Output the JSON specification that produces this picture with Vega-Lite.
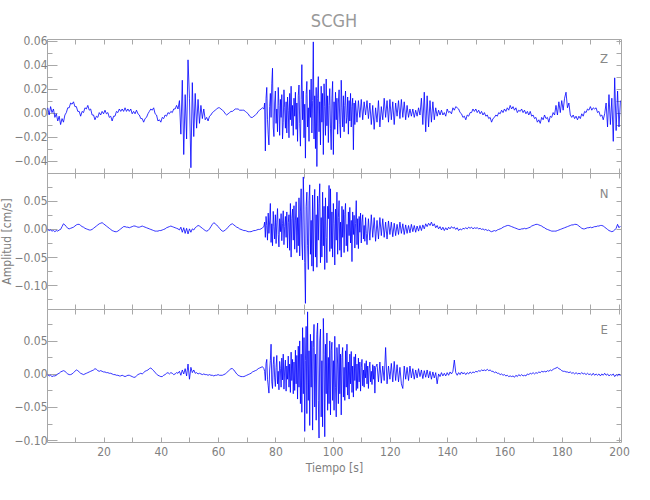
{
"$schema": "https://vega.github.io/schema/vega-lite/v6.json",
"background": "white",
"padding": {"left": 0, "top": 13, "right": 5, "bottom": 5},
"bounds": "flush",
"title": {"text": "SCGH", "fontSize": 18, "font": "Liberation Sans Narrow, DejaVu Sans Condensed, sans-serif", "fontWeight": "normal", "color": "#999999", "anchor": "middle", "frame": "group", "offset": 3},
"datasets": {
"z": [
{"t":0.5,"v":0.004},{"t":1,"v":-0.002},{"t":1.5,"v":0.005},{"t":2,"v":0},{"t":2.5,"v":0.003},{"t":3,"v":-0.004},{"t":3.5,"v":-0.001},{"t":4,"v":-0.007},{"t":4.5,"v":-0.003},{"t":5,"v":-0.01},{"t":5.5,"v":-0.005},{"t":6,"v":-0.008},{"t":6.5,"v":-0.002},{"t":7,"v":0},{"t":7.5,"v":0.004},{"t":8,"v":0.004},{"t":8.5,"v":0.008},{"t":9,"v":0.007},{"t":9.5,"v":0.009},{"t":10,"v":0.005},
{"t":10.5,"v":0.005},{"t":11,"v":0.001},{"t":11.5,"v":0.001},{"t":12,"v":-0.003},{"t":12.5,"v":0.001},{"t":13,"v":0},{"t":13.5,"v":0.004},{"t":14,"v":0.003},{"t":14.5,"v":0.006},{"t":15,"v":0.002},{"t":15.5,"v":0.003},{"t":16,"v":-0.002},{"t":16.5,"v":-0.002},{"t":17,"v":-0.006},{"t":17.5,"v":-0.003},{"t":18,"v":-0.004},{"t":18.5,"v":0},{"t":19,"v":-0.002},{"t":19.5,"v":0.001},{"t":20,"v":-0.001},
{"t":20.5,"v":0.002},{"t":21,"v":-0.001},{"t":21.5,"v":0},{"t":22,"v":-0.004},{"t":22.5,"v":-0.003},{"t":23,"v":-0.007},{"t":23.5,"v":-0.003},{"t":24,"v":-0.003},{"t":24.5,"v":0.001},{"t":25,"v":0},{"t":25.5,"v":0.003},{"t":26,"v":0.001},{"t":26.5,"v":0.003},{"t":27,"v":0.001},{"t":27.5,"v":0.004},{"t":28,"v":0.001},{"t":28.5,"v":0.003},{"t":29,"v":0.001},{"t":29.5,"v":0.003},{"t":30,"v":-0.001},
{"t":30.5,"v":0.001},{"t":31,"v":-0.001},{"t":31.5,"v":0.002},{"t":32,"v":-0.001},{"t":32.5,"v":-0.002},{"t":33,"v":-0.005},{"t":33.5,"v":-0.005},{"t":34,"v":-0.008},{"t":34.5,"v":-0.005},{"t":35,"v":-0.004},{"t":35.5,"v":-0.001},{"t":36,"v":0.001},{"t":36.5,"v":0.003},{"t":37,"v":0.002},{"t":37.5,"v":0.004},{"t":38,"v":-0.001},{"t":38.5,"v":-0.002},{"t":39,"v":-0.007},{"t":39.5,"v":-0.006},{"t":40,"v":-0.008},
{"t":40.5,"v":-0.004},{"t":41,"v":-0.005},{"t":41.5,"v":-0.002},{"t":42,"v":-0.003},{"t":42.5,"v":0},{"t":43,"v":-0.001},{"t":43.5,"v":0.001},{"t":44,"v":0},{"t":44.5,"v":0.003},{"t":45,"v":0.003},{"t":45.5,"v":0.006},{"t":46,"v":0.003},{"t":46.5,"v":0.01},{"t":47,"v":-0.018},{"t":47.5,"v":0.027},{"t":48,"v":-0.035},{"t":48.5,"v":0.015},{"t":49,"v":-0.022},{"t":49.5,"v":0.044},{"t":50,"v":0.012},
{"t":50.5,"v":-0.046},{"t":51,"v":0.025},{"t":51.5,"v":-0.02},{"t":52,"v":0.016},{"t":52.5,"v":-0.013},{"t":53,"v":0.011},{"t":53.5,"v":-0.009},{"t":54,"v":0.006},{"t":54.5,"v":-0.005},{"t":55,"v":0.003},{"t":55.5,"v":-0.006},{"t":56,"v":-0.004},{"t":56.5,"v":-0.007},{"t":57,"v":-0.003},{"t":57.5,"v":-0.002},{"t":58,"v":0},{"t":58.5,"v":0.001},{"t":59,"v":0.002},{"t":59.5,"v":0.003},{"t":60,"v":0.004},
{"t":60.5,"v":0.004},{"t":61,"v":0.003},{"t":61.5,"v":0.002},{"t":62,"v":0.001},{"t":62.5,"v":-0.001},{"t":63,"v":-0.002},{"t":63.5,"v":-0.001},{"t":64,"v":0},{"t":64.5,"v":0.001},{"t":65,"v":0.001},{"t":65.5,"v":0.002},{"t":66,"v":0.003},{"t":66.5,"v":0.003},{"t":67,"v":0.003},{"t":67.5,"v":0.002},{"t":68,"v":0.002},{"t":68.5,"v":0.002},{"t":69,"v":0.002},{"t":69.5,"v":0.001},{"t":70,"v":0},
{"t":70.5,"v":-0.001},{"t":71,"v":-0.003},{"t":71.5,"v":-0.004},{"t":72,"v":-0.004},{"t":72.5,"v":-0.003},{"t":73,"v":-0.002},{"t":73.5,"v":-0.001},{"t":74,"v":0.001},{"t":74.5,"v":0.002},{"t":75,"v":0.003},{"t":75.5,"v":0.004},{"t":76,"v":0.003},
{"t":76.25,"v":0.008},{"t":76.5,"v":-0.032},{"t":76.75,"v":0.012},{"t":77,"v":0.021},{"t":77.25,"v":-0.006},{"t":77.5,"v":-0.018},{"t":77.75,"v":-0.027},{"t":78,"v":0.005},{"t":78.25,"v":0.016},{"t":78.5,"v":-0.004},{"t":78.75,"v":0.024},{"t":79,"v":0.037},{"t":79.25,"v":-0.012},{"t":79.5,"v":-0.02},{"t":79.75,"v":0.008},{"t":80,"v":0.018},
{"t":80.25,"v":-0.009},{"t":80.5,"v":0.003},{"t":80.75,"v":-0.016},{"t":81,"v":0.021},{"t":81.25,"v":0.006},{"t":81.5,"v":-0.019},{"t":81.75,"v":0.011},{"t":82,"v":-0.004},{"t":82.25,"v":0.015},{"t":82.5,"v":-0.022},{"t":82.75,"v":-0.008},{"t":83,"v":0.019},{"t":83.25,"v":0.004},{"t":83.5,"v":-0.013},{"t":83.75,"v":0.009},{"t":84,"v":-0.017},
{"t":84.25,"v":0.013},{"t":84.5,"v":0.002},{"t":84.75,"v":-0.021},{"t":85,"v":0.016},{"t":85.25,"v":-0.006},{"t":85.5,"v":0.022},{"t":85.75,"v":-0.011},{"t":86,"v":0.006},{"t":86.25,"v":-0.019},{"t":86.5,"v":0.012},{"t":86.75,"v":-0.003},{"t":87,"v":0.017},{"t":87.25,"v":-0.014},{"t":87.5,"v":0.008},{"t":87.75,"v":-0.024},{"t":88,"v":0.014},
{"t":88.25,"v":0.023},{"t":88.5,"v":-0.009},{"t":88.75,"v":-0.028},{"t":89,"v":0.011},{"t":89.25,"v":0.04},{"t":89.5,"v":-0.006},{"t":89.75,"v":0.018},{"t":90,"v":-0.021},{"t":90.25,"v":0.007},{"t":90.5,"v":-0.038},{"t":90.75,"v":0.015},{"t":91,"v":0.026},{"t":91.25,"v":-0.012},{"t":91.5,"v":0.004},{"t":91.75,"v":-0.024},{"t":92,"v":0.019},
{"t":92.25,"v":-0.004},{"t":92.5,"v":0.028},{"t":92.75,"v":-0.017},{"t":93,"v":0.01},{"t":93.25,"v":0.059},{"t":93.5,"v":-0.022},{"t":93.75,"v":0.014},{"t":94,"v":-0.03},{"t":94.25,"v":0.021},{"t":94.5,"v":-0.045},{"t":94.75,"v":0.012},{"t":95,"v":0.03},{"t":95.25,"v":-0.016},{"t":95.5,"v":0.009},{"t":95.75,"v":-0.027},{"t":96,"v":0.022},
{"t":96.25,"v":-0.008},{"t":96.5,"v":0.016},{"t":96.75,"v":-0.035},{"t":97,"v":0.024},{"t":97.25,"v":0.005},{"t":97.5,"v":-0.019},{"t":97.75,"v":0.028},{"t":98,"v":-0.011},{"t":98.25,"v":0.014},{"t":98.5,"v":-0.025},{"t":98.75,"v":0.006},{"t":99,"v":0.02},{"t":99.25,"v":-0.013},{"t":99.5,"v":-0.031},{"t":99.75,"v":0.012},{"t":100,"v":0.026},
{"t":100.25,"v":-0.035},{"t":100.5,"v":0.009},{"t":100.75,"v":-0.014},{"t":101,"v":0.017},{"t":101.25,"v":-0.006},{"t":101.5,"v":0.012},{"t":101.75,"v":-0.018},{"t":102,"v":0.008},{"t":102.25,"v":0.019},{"t":102.5,"v":-0.01},{"t":102.75,"v":-0.021},{"t":103,"v":0.027},{"t":103.25,"v":0.004},{"t":103.5,"v":-0.012},{"t":103.75,"v":0.014},{"t":104,"v":-0.016},
{"t":104.25,"v":0.006},{"t":104.5,"v":0.018},{"t":104.75,"v":-0.009},{"t":105,"v":-0.004},{"t":105.25,"v":0.013},{"t":105.5,"v":-0.018},{"t":105.75,"v":0.01},{"t":106,"v":-0.007},{"t":106.25,"v":0.016},{"t":106.5,"v":-0.012},{"t":106.75,"v":0.005},{"t":107,"v":0.012},{"t":107.25,"v":-0.031},{"t":107.5,"v":0.008},{"t":107.75,"v":-0.01},{"t":108,"v":0.01},
{"t":108.5,"v":-0.008},{"t":109,"v":0.01},{"t":109.5,"v":-0.004},{"t":110,"v":0.011},
{"t":110.5,"v":-0.006},{"t":111,"v":0.009},{"t":111.5,"v":-0.002},{"t":112,"v":0.01},{"t":112.5,"v":-0.005},{"t":113,"v":0.008},{"t":113.5,"v":-0.01},{"t":114,"v":0.006},{"t":114.5,"v":-0.014},{"t":115,"v":0.004},{"t":115.5,"v":-0.008},{"t":116,"v":0.01},{"t":116.5,"v":-0.012},{"t":117,"v":0.005},{"t":117.5,"v":-0.006},{"t":118,"v":0.012},{"t":118.5,"v":-0.004},{"t":119,"v":0.01},{"t":119.5,"v":-0.008},{"t":120,"v":0.011},
{"t":120.5,"v":-0.006},{"t":121,"v":0.009},{"t":121.5,"v":-0.01},{"t":122,"v":0.008},{"t":122.5,"v":-0.003},{"t":123,"v":0.01},{"t":123.5,"v":-0.005},{"t":124,"v":0.011},{"t":124.5,"v":-0.004},{"t":125,"v":0.009},{"t":125.5,"v":-0.006},{"t":126,"v":0.006},{"t":126.5,"v":-0.004},{"t":127,"v":0.003},{"t":127.5,"v":-0.003},{"t":128,"v":0.003},{"t":128.5,"v":-0.004},{"t":129,"v":0.002},{"t":129.5,"v":-0.003},{"t":130,"v":0.004},
{"t":130.5,"v":-0.002},{"t":131,"v":0.012},{"t":131.5,"v":-0.01},{"t":132,"v":0.017},{"t":132.5,"v":-0.016},{"t":133,"v":0.014},{"t":133.5,"v":-0.012},{"t":134,"v":0.01},{"t":134.5,"v":-0.008},{"t":135,"v":0.009},{"t":135.5,"v":-0.006},{"t":136,"v":0.004},{"t":136.5,"v":-0.003},{"t":137,"v":0.002},{"t":137.5,"v":-0.002},{"t":138,"v":0.002},{"t":138.5,"v":-0.002},{"t":139,"v":0},{"t":139.5,"v":-0.003},{"t":140,"v":0.003},
{"t":140.5,"v":0},{"t":141,"v":0.001},{"t":141.5,"v":-0.001},{"t":142,"v":0.004},{"t":142.5,"v":0.002},{"t":143,"v":0.005},{"t":143.5,"v":0.004},{"t":144,"v":0.003},{"t":144.5,"v":0},{"t":145,"v":-0.001},{"t":145.5,"v":-0.004},{"t":146,"v":-0.003},{"t":146.5,"v":-0.006},{"t":147,"v":-0.002},{"t":147.5,"v":-0.003},{"t":148,"v":0},{"t":148.5,"v":0},{"t":149,"v":0.003},{"t":149.5,"v":0.001},{"t":150,"v":0.003},
{"t":150.5,"v":0},{"t":151,"v":0.002},{"t":151.5,"v":-0.001},{"t":152,"v":0.001},{"t":152.5,"v":-0.002},{"t":153,"v":0},{"t":153.5,"v":-0.003},{"t":154,"v":-0.002},{"t":154.5,"v":-0.005},{"t":155,"v":-0.004},{"t":155.5,"v":-0.008},{"t":156,"v":-0.005},{"t":156.5,"v":-0.004},{"t":157,"v":-0.002},{"t":157.5,"v":-0.003},{"t":158,"v":0},{"t":158.5,"v":-0.001},{"t":159,"v":0.002},{"t":159.5,"v":0},{"t":160,"v":0.003},
{"t":160.5,"v":0.001},{"t":161,"v":0.004},{"t":161.5,"v":0.002},{"t":162,"v":0.006},{"t":162.5,"v":0.003},{"t":163,"v":0.005},{"t":163.5,"v":0.002},{"t":164,"v":0.004},{"t":164.5,"v":0},{"t":165,"v":0.002},{"t":165.5,"v":0.001},{"t":166,"v":0.003},{"t":166.5,"v":0},{"t":167,"v":0.002},{"t":167.5,"v":-0.001},{"t":168,"v":0.001},{"t":168.5,"v":-0.002},{"t":169,"v":0.001},{"t":169.5,"v":-0.003},{"t":170,"v":-0.002},
{"t":170.5,"v":-0.005},{"t":171,"v":-0.004},{"t":171.5,"v":-0.008},{"t":172,"v":-0.006},{"t":172.5,"v":-0.009},{"t":173,"v":-0.004},{"t":173.5,"v":-0.006},{"t":174,"v":-0.002},{"t":174.5,"v":-0.005},{"t":175,"v":-0.004},{"t":175.5,"v":-0.008},{"t":176,"v":-0.003},{"t":176.5,"v":-0.004},{"t":177,"v":0},{"t":177.5,"v":-0.002},{"t":178,"v":0.006},{"t":178.5,"v":-0.002},{"t":179,"v":0.009},{"t":179.5,"v":0},{"t":180,"v":0.01},
{"t":180.5,"v":0.002},{"t":181,"v":0.012},{"t":181.5,"v":0.017},{"t":182,"v":0.004},{"t":182.5,"v":0.008},{"t":183,"v":-0.002},{"t":183.5,"v":-0.004},{"t":184,"v":-0.002},{"t":184.5,"v":-0.005},{"t":185,"v":-0.003},{"t":185.5,"v":-0.006},{"t":186,"v":-0.003},{"t":186.5,"v":-0.005},{"t":187,"v":-0.001},{"t":187.5,"v":-0.003},{"t":188,"v":0.001},{"t":188.5,"v":0},{"t":189,"v":0.003},{"t":189.5,"v":0.002},{"t":190,"v":0.005},
{"t":190.5,"v":0.002},{"t":191,"v":0.004},{"t":191.5,"v":0.003},{"t":192,"v":0.004},{"t":192.5,"v":0},{"t":193,"v":0.001},{"t":193.5,"v":-0.003},{"t":194,"v":-0.002},{"t":194.5,"v":-0.006},{"t":195,"v":-0.001},{"t":195.5,"v":0.008},{"t":196,"v":-0.012},{"t":196.5,"v":0.015},{"t":197,"v":-0.01},{"t":197.5,"v":0.012},{"t":198,"v":-0.024},{"t":198.5,"v":0.029},{"t":199,"v":-0.015},{"t":199.5,"v":0.018},{"t":200,"v":-0.012},
{"t":200.5,"v":0.01}
],
"n": [
{"t":0.5,"v":-0.001},{"t":1,"v":-0.003},{"t":1.5,"v":-0.002},{"t":2,"v":-0.004},{"t":2.5,"v":-0.003},{"t":3,"v":-0.005},{"t":3.5,"v":-0.003},{"t":4,"v":-0.004},{"t":4.5,"v":-0.002},{"t":5,"v":-0.001},{"t":5.5,"v":0.004},{"t":6,"v":0.009},{"t":6.5,"v":0.007},{"t":7,"v":0.004},{"t":7.5,"v":0.001},{"t":8,"v":0},{"t":8.5,"v":0.001},{"t":9,"v":0.002},{"t":9.5,"v":0.003},{"t":10,"v":0.005},
{"t":10.5,"v":0.007},{"t":11,"v":0.008},{"t":11.5,"v":0.008},{"t":12,"v":0.006},{"t":12.5,"v":0.004},{"t":13,"v":0.003},{"t":13.5,"v":0.001},{"t":14,"v":0},{"t":14.5,"v":-0.001},{"t":15,"v":-0.002},{"t":15.5,"v":-0.002},{"t":16,"v":-0.001},{"t":16.5,"v":0.001},{"t":17,"v":0.003},{"t":17.5,"v":0.005},{"t":18,"v":0.007},{"t":18.5,"v":0.009},{"t":19,"v":0.01},{"t":19.5,"v":0.011},{"t":20,"v":0.009},
{"t":20.5,"v":0.007},{"t":21,"v":0.005},{"t":21.5,"v":0.003},{"t":22,"v":0.001},{"t":22.5,"v":-0.001},{"t":23,"v":-0.003},{"t":23.5,"v":-0.004},{"t":24,"v":-0.005},{"t":24.5,"v":-0.005},{"t":25,"v":-0.004},{"t":25.5,"v":-0.002},{"t":26,"v":0},{"t":26.5,"v":0.002},{"t":27,"v":0.004},{"t":27.5,"v":0.004},{"t":28,"v":0.003},{"t":28.5,"v":0.003},{"t":29,"v":0.002},{"t":29.5,"v":0.003},{"t":30,"v":0.004},
{"t":30.5,"v":0.005},{"t":31,"v":0.005},{"t":31.5,"v":0.004},{"t":32,"v":0.003},{"t":32.5,"v":0.003},{"t":33,"v":0.004},{"t":33.5,"v":0.005},{"t":34,"v":0.004},{"t":34.5,"v":0.003},{"t":35,"v":0.002},{"t":35.5,"v":0.001},{"t":36,"v":0},{"t":36.5,"v":-0.001},{"t":37,"v":-0.002},{"t":37.5,"v":-0.003},{"t":38,"v":-0.004},{"t":38.5,"v":-0.004},{"t":39,"v":-0.004},{"t":39.5,"v":-0.003},{"t":40,"v":-0.003},
{"t":40.5,"v":-0.002},{"t":41,"v":-0.001},{"t":41.5,"v":0},{"t":42,"v":0.002},{"t":42.5,"v":0.003},{"t":43,"v":0.004},{"t":43.5,"v":0.005},{"t":44,"v":0.004},{"t":44.5,"v":0.003},{"t":45,"v":0.002},{"t":45.5,"v":0.001},{"t":46,"v":0},{"t":46.5,"v":-0.002},{"t":47,"v":0.003},{"t":47.5,"v":-0.006},{"t":48,"v":0.002},{"t":48.5,"v":-0.008},{"t":49,"v":0.001},{"t":49.5,"v":-0.009},{"t":50,"v":0},
{"t":50.5,"v":-0.006},{"t":51,"v":0},{"t":51.5,"v":-0.002},{"t":52,"v":0.002},{"t":52.5,"v":0.004},{"t":53,"v":0.006},{"t":53.5,"v":0.005},{"t":54,"v":0.003},{"t":54.5,"v":0.001},{"t":55,"v":-0.001},{"t":55.5,"v":-0.003},{"t":56,"v":-0.004},{"t":56.5,"v":-0.003},{"t":57,"v":0},{"t":57.5,"v":0.004},{"t":58,"v":0.008},{"t":58.5,"v":0.011},{"t":59,"v":0.009},{"t":59.5,"v":0.007},{"t":60,"v":0.004},
{"t":60.5,"v":0.001},{"t":61,"v":-0.002},{"t":61.5,"v":-0.004},{"t":62,"v":-0.004},{"t":62.5,"v":-0.002},{"t":63,"v":0},{"t":63.5,"v":0.003},{"t":64,"v":0.006},{"t":64.5,"v":0.008},{"t":65,"v":0.009},{"t":65.5,"v":0.007},{"t":66,"v":0.005},{"t":66.5,"v":0.003},{"t":67,"v":0.002},{"t":67.5,"v":0},{"t":68,"v":-0.001},{"t":68.5,"v":-0.002},{"t":69,"v":-0.003},{"t":69.5,"v":-0.003},{"t":70,"v":-0.004},
{"t":70.5,"v":-0.005},{"t":71,"v":-0.005},{"t":71.5,"v":-0.005},{"t":72,"v":-0.004},{"t":72.5,"v":-0.003},{"t":73,"v":-0.003},{"t":73.5,"v":-0.002},{"t":74,"v":-0.001},{"t":74.5,"v":-0.001},{"t":75,"v":0},{"t":75.5,"v":0.002},{"t":76,"v":0.004},
{"t":76.25,"v":0.012},{"t":76.5,"v":-0.015},{"t":76.75,"v":0.022},{"t":77,"v":0.006},{"t":77.25,"v":-0.02},{"t":77.5,"v":0.028},{"t":77.75,"v":-0.008},{"t":78,"v":0.014},{"t":78.25,"v":0.045},{"t":78.5,"v":-0.024},{"t":78.75,"v":0.009},{"t":79,"v":-0.03},{"t":79.25,"v":0.031},{"t":79.5,"v":0.004},{"t":79.75,"v":-0.018},{"t":80,"v":0.025},
{"t":80.25,"v":-0.026},{"t":80.5,"v":0.012},{"t":80.75,"v":0.036},{"t":81,"v":-0.01},{"t":81.25,"v":-0.032},{"t":81.5,"v":0.018},{"t":81.75,"v":-0.005},{"t":82,"v":0.027},{"t":82.25,"v":-0.021},{"t":82.5,"v":0.009},{"t":82.75,"v":0.032},{"t":83,"v":-0.028},{"t":83.25,"v":0.004},{"t":83.5,"v":0.022},{"t":83.75,"v":-0.015},{"t":84,"v":0.03},
{"t":84.25,"v":-0.034},{"t":84.5,"v":0.011},{"t":84.75,"v":0.025},{"t":85,"v":-0.038},{"t":85.25,"v":0.045},{"t":85.5,"v":-0.05},{"t":85.75,"v":0.018},{"t":86,"v":0.035},{"t":86.25,"v":-0.02},{"t":86.5,"v":0.041},{"t":86.75,"v":-0.036},{"t":87,"v":0.014},{"t":87.25,"v":0.048},{"t":87.5,"v":-0.042},{"t":87.75,"v":0.02},{"t":88,"v":-0.03},
{"t":88.25,"v":0.055},{"t":88.5,"v":-0.048},{"t":88.75,"v":0.03},{"t":89,"v":0.071},{"t":89.25,"v":-0.025},{"t":89.5,"v":-0.055},{"t":89.75,"v":0.092},{"t":90,"v":0.035},{"t":90.25,"v":-0.06},{"t":90.5,"v":-0.132},{"t":90.75,"v":0.04},{"t":91,"v":0.065},{"t":91.25,"v":-0.03},{"t":91.5,"v":-0.072},{"t":91.75,"v":0.05},{"t":92,"v":0.078},
{"t":92.25,"v":-0.045},{"t":92.5,"v":0.015},{"t":92.75,"v":-0.066},{"t":93,"v":0.06},{"t":93.25,"v":-0.075},{"t":93.5,"v":0.03},{"t":93.75,"v":0.07},{"t":94,"v":-0.05},{"t":94.25,"v":0.025},{"t":94.5,"v":-0.068},{"t":94.75,"v":0.058},{"t":95,"v":-0.02},{"t":95.25,"v":0.045},{"t":95.5,"v":0.08},{"t":95.75,"v":-0.06},{"t":96,"v":0.02},
{"t":96.25,"v":-0.05},{"t":96.5,"v":0.065},{"t":96.75,"v":-0.03},{"t":97,"v":0.04},{"t":97.25,"v":-0.072},{"t":97.5,"v":0.055},{"t":97.75,"v":-0.015},{"t":98,"v":-0.06},{"t":98.25,"v":0.04},{"t":98.5,"v":0.018},{"t":98.75,"v":0.077},{"t":99,"v":-0.04},{"t":99.25,"v":0.071},{"t":99.5,"v":-0.035},{"t":99.75,"v":0.03},{"t":100,"v":-0.05},
{"t":100.25,"v":0.045},{"t":100.5,"v":0.01},{"t":100.75,"v":-0.064},{"t":101,"v":0.035},{"t":101.25,"v":-0.02},{"t":101.5,"v":0.065},{"t":101.75,"v":-0.045},{"t":102,"v":0.02},{"t":102.25,"v":0.05},{"t":102.5,"v":-0.038},{"t":102.75,"v":0.012},{"t":103,"v":-0.05},{"t":103.25,"v":0.04},{"t":103.5,"v":-0.015},{"t":103.75,"v":0.034},{"t":104,"v":-0.042},
{"t":104.25,"v":0.026},{"t":104.5,"v":0.045},{"t":104.75,"v":-0.03},{"t":105,"v":0.008},{"t":105.25,"v":-0.04},{"t":105.5,"v":0.03},{"t":105.75,"v":-0.012},{"t":106,"v":0.038},{"t":106.25,"v":-0.025},{"t":106.5,"v":0.015},{"t":106.75,"v":-0.058},{"t":107,"v":0.03},{"t":107.25,"v":-0.01},{"t":107.5,"v":0.024},{"t":107.75,"v":-0.034},{"t":108,"v":0.01},
{"t":108.25,"v":0.05},{"t":108.5,"v":-0.028},{"t":108.75,"v":0.018},{"t":109,"v":-0.035},{"t":109.25,"v":0.022},{"t":109.5,"v":-0.006},{"t":109.75,"v":0.028},{"t":110,"v":-0.025},{"t":110.25,"v":0.012},{"t":110.5,"v":0.025},{"t":110.75,"v":-0.018},{"t":111,"v":0.006},{"t":111.25,"v":-0.022},{"t":111.5,"v":0.02},{"t":111.75,"v":-0.008},{"t":112,"v":-0.028},
{"t":112.5,"v":0.018},{"t":113,"v":-0.02},{"t":113.5,"v":0.025},{"t":114,"v":-0.015},{"t":114.5,"v":0.02},{"t":115,"v":-0.022},{"t":115.5,"v":0.015},{"t":116,"v":-0.018},{"t":116.5,"v":0.02},{"t":117,"v":-0.012},{"t":117.5,"v":0.018},{"t":118,"v":-0.015},{"t":118.5,"v":0.012},{"t":119,"v":-0.018},{"t":119.5,"v":0.014},{"t":120,"v":-0.01},
{"t":120.5,"v":0.012},{"t":121,"v":-0.014},{"t":121.5,"v":0.01},{"t":122,"v":-0.012},{"t":122.5,"v":0.008},{"t":123,"v":-0.01},{"t":123.5,"v":0.012},{"t":124,"v":-0.008},{"t":124.5,"v":0.009},{"t":125,"v":-0.01},{"t":125.5,"v":0.007},{"t":126,"v":-0.008},{"t":126.5,"v":0.006},{"t":127,"v":-0.007},{"t":127.5,"v":0.008},{"t":128,"v":-0.005},{"t":128.5,"v":0.006},{"t":129,"v":-0.006},{"t":129.5,"v":0.005},{"t":130,"v":-0.004},
{"t":130.5,"v":0.006},{"t":131,"v":-0.003},{"t":131.5,"v":0.007},{"t":132,"v":0},{"t":132.5,"v":0.009},{"t":133,"v":0.004},{"t":133.5,"v":0.01},{"t":134,"v":0.006},{"t":134.5,"v":0.012},{"t":135,"v":0.005},{"t":135.5,"v":0.009},{"t":136,"v":0.002},{"t":136.5,"v":0.006},{"t":137,"v":0},{"t":137.5,"v":0.004},{"t":138,"v":-0.002},{"t":138.5,"v":0.003},{"t":139,"v":-0.003},{"t":139.5,"v":0.002},{"t":140,"v":-0.002},
{"t":140.5,"v":0.003},{"t":141,"v":0},{"t":141.5,"v":0.004},{"t":142,"v":0.001},{"t":142.5,"v":0.003},{"t":143,"v":-0.001},{"t":143.5,"v":0.002},{"t":144,"v":-0.003},{"t":144.5,"v":0},{"t":145,"v":-0.002},{"t":145.5,"v":0.001},{"t":146,"v":0},{"t":146.5,"v":0.002},{"t":147,"v":0},{"t":147.5,"v":0.003},{"t":148,"v":0.001},{"t":148.5,"v":0.003},{"t":149,"v":0},{"t":149.5,"v":0.002},{"t":150,"v":0.001},
{"t":150.5,"v":0.002},{"t":151,"v":0},{"t":151.5,"v":0.001},{"t":152,"v":-0.001},{"t":152.5,"v":0},{"t":153,"v":-0.002},{"t":153.5,"v":-0.001},{"t":154,"v":-0.003},{"t":154.5,"v":-0.002},{"t":155,"v":-0.004},{"t":155.5,"v":-0.005},{"t":156,"v":-0.004},{"t":156.5,"v":-0.003},{"t":157,"v":-0.004},{"t":157.5,"v":-0.002},{"t":158,"v":-0.001},{"t":158.5,"v":0},{"t":159,"v":0.001},{"t":159.5,"v":0.003},{"t":160,"v":0.004},
{"t":160.5,"v":0.005},{"t":161,"v":0.006},{"t":161.5,"v":0.006},{"t":162,"v":0.005},{"t":162.5,"v":0.004},{"t":163,"v":0.003},{"t":163.5,"v":0.002},{"t":164,"v":0.001},{"t":164.5,"v":0},{"t":165,"v":-0.001},{"t":165.5,"v":-0.001},{"t":166,"v":0},{"t":166.5,"v":0},{"t":167,"v":0.001},{"t":167.5,"v":0},{"t":168,"v":0.001},{"t":168.5,"v":0.002},{"t":169,"v":0.003},{"t":169.5,"v":0.005},{"t":170,"v":0.006},
{"t":170.5,"v":0.007},{"t":171,"v":0.008},{"t":171.5,"v":0.008},{"t":172,"v":0.007},{"t":172.5,"v":0.006},{"t":173,"v":0.005},{"t":173.5,"v":0.003},{"t":174,"v":0.002},{"t":174.5,"v":0},{"t":175,"v":-0.001},{"t":175.5,"v":-0.002},{"t":176,"v":-0.003},{"t":176.5,"v":-0.004},{"t":177,"v":-0.004},{"t":177.5,"v":-0.004},{"t":178,"v":-0.004},{"t":178.5,"v":-0.003},{"t":179,"v":-0.002},{"t":179.5,"v":-0.001},{"t":180,"v":0},
{"t":180.5,"v":0.001},{"t":181,"v":0.002},{"t":181.5,"v":0.003},{"t":182,"v":0.004},{"t":182.5,"v":0.005},{"t":183,"v":0.006},{"t":183.5,"v":0.007},{"t":184,"v":0.007},{"t":184.5,"v":0.008},{"t":185,"v":0.008},{"t":185.5,"v":0.007},{"t":186,"v":0.005},{"t":186.5,"v":0.003},{"t":187,"v":0.001},{"t":187.5,"v":0},{"t":188,"v":0},{"t":188.5,"v":0.001},{"t":189,"v":0.002},{"t":189.5,"v":0.002},{"t":190,"v":0.003},
{"t":190.5,"v":0.002},{"t":191,"v":0.003},{"t":191.5,"v":0.004},{"t":192,"v":0.004},{"t":192.5,"v":0.005},{"t":193,"v":0.005},{"t":193.5,"v":0.006},{"t":194,"v":0.006},{"t":194.5,"v":0.005},{"t":195,"v":0.003},{"t":195.5,"v":0.001},{"t":196,"v":-0.001},{"t":196.5,"v":-0.003},{"t":197,"v":-0.004},{"t":197.5,"v":-0.005},{"t":198,"v":-0.004},{"t":198.5,"v":-0.002},{"t":199,"v":0.001},{"t":199.5,"v":0.008},{"t":200,"v":0.002},
{"t":200.5,"v":0.005}
],
"e": [
{"t":0.5,"v":-0.001},{"t":1,"v":-0.003},{"t":1.5,"v":-0.002},{"t":2,"v":-0.004},{"t":2.5,"v":-0.003},{"t":3,"v":-0.003},{"t":3.5,"v":-0.002},{"t":4,"v":0},{"t":4.5,"v":0.001},{"t":5,"v":0.003},{"t":5.5,"v":0.004},{"t":6,"v":0.005},{"t":6.5,"v":0.004},{"t":7,"v":0.002},{"t":7.5,"v":0},{"t":8,"v":-0.001},{"t":8.5,"v":-0.001},{"t":9,"v":0},{"t":9.5,"v":0.002},{"t":10,"v":0.004},
{"t":10.5,"v":0.006},{"t":11,"v":0.005},{"t":11.5,"v":0.003},{"t":12,"v":0.001},{"t":12.5,"v":0},{"t":13,"v":-0.001},{"t":13.5,"v":0},{"t":14,"v":0.001},{"t":14.5,"v":0.002},{"t":15,"v":0.003},{"t":15.5,"v":0.004},{"t":16,"v":0.005},{"t":16.5,"v":0.006},{"t":17,"v":0.008},{"t":17.5,"v":0.007},{"t":18,"v":0.005},{"t":18.5,"v":0.004},{"t":19,"v":0.005},{"t":19.5,"v":0.004},{"t":20,"v":0.003},
{"t":20.5,"v":0.003},{"t":21,"v":0.002},{"t":21.5,"v":0.002},{"t":22,"v":0.001},{"t":22.5,"v":0.001},{"t":23,"v":0},{"t":23.5,"v":-0.001},{"t":24,"v":-0.001},{"t":24.5,"v":-0.002},{"t":25,"v":-0.002},{"t":25.5,"v":-0.003},{"t":26,"v":-0.003},{"t":26.5,"v":-0.002},{"t":27,"v":-0.003},{"t":27.5,"v":-0.004},{"t":28,"v":-0.003},{"t":28.5,"v":-0.002},{"t":29,"v":-0.002},{"t":29.5,"v":-0.003},{"t":30,"v":-0.004},
{"t":30.5,"v":-0.005},{"t":31,"v":-0.005},{"t":31.5,"v":-0.003},{"t":32,"v":-0.001},{"t":32.5,"v":0},{"t":33,"v":0.001},{"t":33.5,"v":0},{"t":34,"v":0.002},{"t":34.5,"v":0.004},{"t":35,"v":0.005},{"t":35.5,"v":0.006},{"t":36,"v":0.008},{"t":36.5,"v":0.009},{"t":37,"v":0.007},{"t":37.5,"v":0.005},{"t":38,"v":0.002},{"t":38.5,"v":0},{"t":39,"v":-0.002},{"t":39.5,"v":-0.003},{"t":40,"v":-0.004},
{"t":40.5,"v":-0.004},{"t":41,"v":-0.002},{"t":41.5,"v":-0.001},{"t":42,"v":0.001},{"t":42.5,"v":0.002},{"t":43,"v":0},{"t":43.5,"v":0.002},{"t":44,"v":0.001},{"t":44.5,"v":-0.001},{"t":45,"v":0},{"t":45.5,"v":0.002},{"t":46,"v":0.001},{"t":46.5,"v":0.004},{"t":47,"v":-0.002},{"t":47.5,"v":0.006},{"t":48,"v":0},{"t":48.5,"v":0.008},{"t":49,"v":-0.003},{"t":49.5,"v":0.015},{"t":50,"v":-0.008},
{"t":50.5,"v":0.01},{"t":51,"v":0.002},{"t":51.5,"v":0.006},{"t":52,"v":0.001},{"t":52.5,"v":0.002},{"t":53,"v":0},{"t":53.5,"v":0.001},{"t":54,"v":0},{"t":54.5,"v":-0.001},{"t":55,"v":0},{"t":55.5,"v":-0.001},{"t":56,"v":-0.001},{"t":56.5,"v":-0.002},{"t":57,"v":-0.001},{"t":57.5,"v":-0.002},{"t":58,"v":-0.002},{"t":58.5,"v":-0.003},{"t":59,"v":-0.002},{"t":59.5,"v":-0.002},{"t":60,"v":-0.001},
{"t":60.5,"v":-0.002},{"t":61,"v":-0.002},{"t":61.5,"v":-0.002},{"t":62,"v":-0.001},{"t":62.5,"v":0},{"t":63,"v":0.002},{"t":63.5,"v":0.004},{"t":64,"v":0.006},{"t":64.5,"v":0.008},{"t":65,"v":0.008},{"t":65.5,"v":0.006},{"t":66,"v":0.003},{"t":66.5,"v":0},{"t":67,"v":-0.002},{"t":67.5,"v":-0.003},{"t":68,"v":-0.004},{"t":68.5,"v":-0.004},{"t":69,"v":-0.004},{"t":69.5,"v":-0.003},{"t":70,"v":-0.002},
{"t":70.5,"v":-0.001},{"t":71,"v":0},{"t":71.5,"v":0.001},{"t":72,"v":0.003},{"t":72.5,"v":0.004},{"t":73,"v":0.005},{"t":73.5,"v":0.006},{"t":74,"v":0.008},{"t":74.5,"v":0.009},{"t":75,"v":0.01},{"t":75.5,"v":0.011},{"t":76,"v":0.008},
{"t":76.25,"v":0.004},{"t":76.5,"v":-0.01},{"t":76.75,"v":0.016},{"t":77,"v":0.022},{"t":77.25,"v":-0.008},{"t":77.5,"v":-0.018},{"t":77.75,"v":-0.029},{"t":78,"v":0.006},{"t":78.25,"v":0.02},{"t":78.5,"v":0.045},{"t":78.75,"v":-0.012},{"t":79,"v":-0.022},{"t":79.25,"v":0.014},{"t":79.5,"v":0.026},{"t":79.75,"v":-0.006},{"t":80,"v":-0.019},
{"t":80.25,"v":0.01},{"t":80.5,"v":0.028},{"t":80.75,"v":-0.015},{"t":81,"v":0.004},{"t":81.25,"v":-0.024},{"t":81.5,"v":0.019},{"t":81.75,"v":0.008},{"t":82,"v":-0.02},{"t":82.25,"v":0.024},{"t":82.5,"v":-0.009},{"t":82.75,"v":0.03},{"t":83,"v":-0.023},{"t":83.25,"v":0.006},{"t":83.5,"v":0.021},{"t":83.75,"v":-0.026},{"t":84,"v":0.012},
{"t":84.25,"v":-0.008},{"t":84.5,"v":0.027},{"t":84.75,"v":-0.02},{"t":85,"v":0.015},{"t":85.25,"v":-0.028},{"t":85.5,"v":0.033},{"t":85.75,"v":-0.01},{"t":86,"v":0.022},{"t":86.25,"v":-0.03},{"t":86.5,"v":0.018},{"t":86.75,"v":-0.025},{"t":87,"v":0.036},{"t":87.25,"v":-0.015},{"t":87.5,"v":0.028},{"t":87.75,"v":-0.038},{"t":88,"v":0.042},
{"t":88.25,"v":-0.02},{"t":88.5,"v":0.05},{"t":88.75,"v":-0.045},{"t":89,"v":0.03},{"t":89.25,"v":-0.058},{"t":89.5,"v":0.07},{"t":89.75,"v":-0.03},{"t":90,"v":0.055},{"t":90.25,"v":-0.087},{"t":90.5,"v":0.02},{"t":90.75,"v":0.072},{"t":91,"v":-0.06},{"t":91.25,"v":0.094},{"t":91.5,"v":-0.04},{"t":91.75,"v":0.035},{"t":92,"v":-0.078},
{"t":92.25,"v":0.06},{"t":92.5,"v":-0.02},{"t":92.75,"v":0.05},{"t":93,"v":-0.085},{"t":93.25,"v":0.04},{"t":93.5,"v":0.075},{"t":93.75,"v":-0.05},{"t":94,"v":0.03},{"t":94.25,"v":-0.07},{"t":94.5,"v":0.06},{"t":94.75,"v":0.077},{"t":95,"v":-0.04},{"t":95.25,"v":-0.097},{"t":95.5,"v":0.05},{"t":95.75,"v":0.068},{"t":96,"v":-0.065},
{"t":96.25,"v":0.02},{"t":96.5,"v":-0.08},{"t":96.75,"v":0.084},{"t":97,"v":0.03},{"t":97.25,"v":-0.095},{"t":97.5,"v":0.045},{"t":97.75,"v":-0.03},{"t":98,"v":0.062},{"t":98.25,"v":-0.055},{"t":98.5,"v":0.025},{"t":98.75,"v":-0.045},{"t":99,"v":0.05},{"t":99.25,"v":-0.062},{"t":99.5,"v":0.035},{"t":99.75,"v":0.048},{"t":100,"v":-0.04},
{"t":100.25,"v":0.02},{"t":100.5,"v":-0.055},{"t":100.75,"v":0.057},{"t":101,"v":-0.02},{"t":101.25,"v":-0.065},{"t":101.5,"v":0.04},{"t":101.75,"v":0.015},{"t":102,"v":-0.045},{"t":102.25,"v":0.045},{"t":102.5,"v":-0.03},{"t":102.75,"v":0.03},{"t":103,"v":-0.062},{"t":103.25,"v":0.025},{"t":103.5,"v":0.04},{"t":103.75,"v":-0.035},{"t":104,"v":0.01},
{"t":104.25,"v":-0.04},{"t":104.5,"v":0.035},{"t":104.75,"v":-0.02},{"t":105,"v":0.045},{"t":105.25,"v":-0.032},{"t":105.5,"v":0.018},{"t":105.75,"v":-0.038},{"t":106,"v":0.03},{"t":106.25,"v":-0.015},{"t":106.5,"v":0.034},{"t":106.75,"v":-0.028},{"t":107,"v":0.012},{"t":107.25,"v":-0.035},{"t":107.5,"v":0.026},{"t":107.75,"v":-0.01},{"t":108,"v":0.03},
{"t":108.25,"v":-0.025},{"t":108.5,"v":0.015},{"t":108.75,"v":-0.022},{"t":109,"v":0.024},{"t":109.25,"v":-0.012},{"t":109.5,"v":0.018},{"t":109.75,"v":-0.026},{"t":110,"v":0.01},{"t":110.25,"v":0.022},{"t":110.5,"v":-0.018},{"t":110.75,"v":0.006},{"t":111,"v":-0.02},{"t":111.25,"v":0.016},{"t":111.5,"v":-0.006},{"t":111.75,"v":0.02},{"t":112,"v":-0.015},
{"t":112.25,"v":0.012},{"t":112.5,"v":-0.022},{"t":112.75,"v":0.008},{"t":113,"v":0.018},{"t":113.25,"v":-0.012},{"t":113.5,"v":0.004},{"t":113.75,"v":-0.016},{"t":114,"v":0.014},{"t":114.25,"v":-0.008},{"t":114.5,"v":0.012},{"t":114.75,"v":-0.029},{"t":115,"v":0.01},
{"t":115.5,"v":0.015},{"t":116,"v":-0.012},{"t":116.5,"v":0.018},{"t":117,"v":-0.014},{"t":117.5,"v":0.012},{"t":118,"v":-0.01},{"t":118.5,"v":0.04},{"t":119,"v":-0.015},{"t":119.5,"v":0.012},{"t":120,"v":-0.008},
{"t":120.5,"v":0.016},{"t":121,"v":-0.012},{"t":121.5,"v":0.019},{"t":122,"v":-0.01},{"t":122.5,"v":0.014},{"t":123,"v":-0.012},{"t":123.5,"v":0.01},{"t":124,"v":-0.015},{"t":124.5,"v":-0.022},{"t":125,"v":0.012},{"t":125.5,"v":-0.008},{"t":126,"v":0.01},{"t":126.5,"v":-0.01},{"t":127,"v":0.012},{"t":127.5,"v":-0.006},{"t":128,"v":0.008},{"t":128.5,"v":-0.008},{"t":129,"v":0.006},{"t":129.5,"v":-0.006},{"t":130,"v":0.008},
{"t":130.5,"v":-0.004},{"t":131,"v":0.006},{"t":131.5,"v":-0.007},{"t":132,"v":0.005},{"t":132.5,"v":-0.005},{"t":133,"v":0.006},{"t":133.5,"v":-0.006},{"t":134,"v":0.004},{"t":134.5,"v":-0.008},{"t":135,"v":0.003},{"t":135.5,"v":-0.006},{"t":136,"v":0.002},{"t":136.5,"v":-0.015},{"t":137,"v":0},{"t":137.5,"v":-0.004},{"t":138,"v":0.002},{"t":138.5,"v":-0.003},{"t":139,"v":0.001},{"t":139.5,"v":-0.003},{"t":140,"v":0.002},
{"t":140.5,"v":-0.002},{"t":141,"v":0.003},{"t":141.5,"v":0},{"t":142,"v":0.004},{"t":142.5,"v":0.021},{"t":143,"v":0.002},{"t":143.5,"v":-0.002},{"t":144,"v":0.002},{"t":144.5,"v":-0.001},{"t":145,"v":0.003},{"t":145.5,"v":0},{"t":146,"v":0.002},{"t":146.5,"v":-0.001},{"t":147,"v":0.002},{"t":147.5,"v":0},{"t":148,"v":0.003},{"t":148.5,"v":0.001},{"t":149,"v":0.003},{"t":149.5,"v":0.002},{"t":150,"v":0.004},
{"t":150.5,"v":0.003},{"t":151,"v":0.005},{"t":151.5,"v":0.004},{"t":152,"v":0.006},{"t":152.5,"v":0.005},{"t":153,"v":0.006},{"t":153.5,"v":0.005},{"t":154,"v":0.007},{"t":154.5,"v":0.005},{"t":155,"v":0.006},{"t":155.5,"v":0.004},{"t":156,"v":0.004},{"t":156.5,"v":0.002},{"t":157,"v":0.003},{"t":157.5,"v":0.001},{"t":158,"v":0.001},{"t":158.5,"v":-0.001},{"t":159,"v":0},{"t":159.5,"v":-0.002},{"t":160,"v":-0.001},
{"t":160.5,"v":-0.003},{"t":161,"v":-0.002},{"t":161.5,"v":-0.004},{"t":162,"v":-0.003},{"t":162.5,"v":-0.004},{"t":163,"v":-0.003},{"t":163.5,"v":-0.005},{"t":164,"v":-0.002},{"t":164.5,"v":-0.004},{"t":165,"v":-0.001},{"t":165.5,"v":-0.003},{"t":166,"v":-0.001},{"t":166.5,"v":-0.003},{"t":167,"v":-0.002},{"t":167.5,"v":-0.003},{"t":168,"v":0},{"t":168.5,"v":-0.001},{"t":169,"v":0.001},{"t":169.5,"v":0},{"t":170,"v":0.002},
{"t":170.5,"v":0},{"t":171,"v":0.002},{"t":171.5,"v":0.001},{"t":172,"v":0.003},{"t":172.5,"v":0.002},{"t":173,"v":0.004},{"t":173.5,"v":0.003},{"t":174,"v":0.004},{"t":174.5,"v":0.003},{"t":175,"v":0.005},{"t":175.5,"v":0.004},{"t":176,"v":0.006},{"t":176.5,"v":0.005},{"t":177,"v":0.007},{"t":177.5,"v":0.008},{"t":178,"v":0.009},{"t":178.5,"v":0.01},{"t":179,"v":0.008},{"t":179.5,"v":0.007},{"t":180,"v":0.005},
{"t":180.5,"v":0.004},{"t":181,"v":0.004},{"t":181.5,"v":0.003},{"t":182,"v":0.003},{"t":182.5,"v":0.002},{"t":183,"v":0.003},{"t":183.5,"v":0.001},{"t":184,"v":0.002},{"t":184.5,"v":0},{"t":185,"v":0.002},{"t":185.5,"v":0},{"t":186,"v":0.001},{"t":186.5,"v":0},{"t":187,"v":0.002},{"t":187.5,"v":0},{"t":188,"v":0.001},{"t":188.5,"v":-0.001},{"t":189,"v":0.001},{"t":189.5,"v":-0.001},{"t":190,"v":0},
{"t":190.5,"v":-0.002},{"t":191,"v":0.001},{"t":191.5,"v":-0.002},{"t":192,"v":0},{"t":192.5,"v":-0.002},{"t":193,"v":0},{"t":193.5,"v":-0.003},{"t":194,"v":0},{"t":194.5,"v":-0.002},{"t":195,"v":0.001},{"t":195.5,"v":-0.002},{"t":196,"v":0},{"t":196.5,"v":-0.003},{"t":197,"v":-0.001},{"t":197.5,"v":-0.002},{"t":198,"v":0},{"t":198.5,"v":-0.004},{"t":199,"v":-0.001},{"t":199.5,"v":-0.003},{"t":200,"v":0},
{"t":200.5,"v":-0.003}
]
},
"spacing": 0,
"vconcat": [
{
"data": {"name": "z"},
"width": 574, "height": 134,
"layer": [
{"mark": {"type": "line", "color": "#0000ff", "strokeWidth": 0.8, "clip": true},
 "encoding": {
  "x": {"field": "t", "type": "quantitative", "scale": {"domain": [0.25, 200.7], "nice": false, "zero": false},
        "axis": {"orient": "bottom", "values": [10,20,30,40,50,60,70,80,90,100,110,120,130,140,150,160,170,180,190,200], "labels": false, "tickSize": -5, "title": null}},
  "y": {"field": "v", "type": "quantitative", "scale": {"domain": [-0.0504, 0.0614], "nice": false, "zero": false},
        "axis": {"orient": "left", "values": [-0.05,-0.04,-0.03,-0.02,-0.01,0,0.01,0.02,0.03,0.04,0.05,0.06], "format": ".2f",
                 "labelExpr": "abs(round(datum.value*100))%2==0 ? datum.label : ''",
                 "tickSize": {"condition": {"test": "abs(round(datum.value*100))%2==0", "value": -10}, "value": -5},
                 "labelPadding": 10, "title": null}}
 }},
{"mark": {"type": "line", "opacity": 0},
 "encoding": {
  "x": {"field": "t", "type": "quantitative", "axis": {"orient": "top", "values": [10,20,30,40,50,60,70,80,90,100,110,120,130,140,150,160,170,180,190,200], "labels": false, "tickSize": -5, "title": null}},
  "y": {"field": "v", "type": "quantitative", "axis": {"orient": "right", "values": [-0.05,-0.04,-0.03,-0.02,-0.01,0,0.01,0.02,0.03,0.04,0.05,0.06], "labels": false, "tickSize": -5, "title": null}}
 }},
{"data": {"values": [{}]},
 "mark": {"type": "text", "color": "#888888", "fontSize": 13, "font": "Liberation Sans Narrow, DejaVu Sans Condensed, sans-serif"},
 "encoding": {"x": {"datum": 194.8, "type": "quantitative", "axis": null}, "y": {"datum": 0.0448, "type": "quantitative", "axis": null}, "text": {"value": "Z"}}}
],
"resolve": {"axis": {"x": "independent", "y": "independent"}}
},
{
"data": {"name": "n"},
"width": 574, "height": 136,
"layer": [
{"mark": {"type": "line", "color": "#0000ff", "strokeWidth": 0.8, "clip": true},
 "encoding": {
  "x": {"field": "t", "type": "quantitative", "scale": {"domain": [0.25, 200.7], "nice": false, "zero": false},
        "axis": {"orient": "bottom", "values": [10,20,30,40,50,60,70,80,90,100,110,120,130,140,150,160,170,180,190,200], "labels": false, "tickSize": -5, "title": null}},
  "y": {"field": "v", "type": "quantitative", "scale": {"domain": [-0.142, 0.099], "nice": false, "zero": false},
        "axis": {"orient": "left", "values": [-0.125,-0.1,-0.075,-0.05,-0.025,0,0.025,0.05,0.075], "format": ".2f",
                 "labelExpr": "abs(round(datum.value*1000))%50==0 ? datum.label : ''",
                 "tickSize": {"condition": {"test": "abs(round(datum.value*1000))%50==0", "value": -10}, "value": -5},
                 "labelPadding": 10, "title": "Amplitud  [cm/s]", "titlePadding": 0}}
 }},
{"mark": {"type": "line", "opacity": 0},
 "encoding": {
  "x": {"field": "t", "type": "quantitative", "axis": {"orient": "top", "values": [10,20,30,40,50,60,70,80,90,100,110,120,130,140,150,160,170,180,190,200], "labels": false, "tickSize": -5, "title": null}},
  "y": {"field": "v", "type": "quantitative", "axis": {"orient": "right", "values": [-0.125,-0.1,-0.075,-0.05,-0.025,0,0.025,0.05,0.075], "labels": false, "tickSize": -5, "title": null}}
 }},
{"data": {"values": [{}]},
 "mark": {"type": "text", "color": "#888888", "fontSize": 13, "font": "Liberation Sans Narrow, DejaVu Sans Condensed, sans-serif"},
 "encoding": {"x": {"datum": 194.8, "type": "quantitative", "axis": null}, "y": {"datum": 0.061, "type": "quantitative", "axis": null}, "text": {"value": "N"}}}
],
"resolve": {"axis": {"x": "independent", "y": "independent"}}
},
{
"data": {"name": "e"},
"width": 574, "height": 133,
"layer": [
{"mark": {"type": "line", "color": "#0000ff", "strokeWidth": 0.8, "clip": true},
 "encoding": {
  "x": {"field": "t", "type": "quantitative", "scale": {"domain": [0.25, 200.7], "nice": false, "zero": false},
        "axis": {"orient": "bottom", "values": [10,20,30,40,50,60,70,80,90,100,110,120,130,140,150,160,170,180,190,200], "format": "d",
                 "labelExpr": "datum.value%20==0 ? datum.label : ''", "tickSize": -5, "labelPadding": 9, "title": "Tiempo  [s]", "titlePadding": 5}},
  "y": {"field": "v", "type": "quantitative", "scale": {"domain": [-0.103, 0.0983], "nice": false, "zero": false},
        "axis": {"orient": "left", "values": [-0.1,-0.075,-0.05,-0.025,0,0.025,0.05,0.075], "format": ".2f",
                 "labelExpr": "abs(round(datum.value*1000))%50==0 ? datum.label : ''",
                 "tickSize": {"condition": {"test": "abs(round(datum.value*1000))%50==0", "value": -10}, "value": -5},
                 "labelPadding": 10, "title": null}}
 }},
{"mark": {"type": "line", "opacity": 0},
 "encoding": {
  "x": {"field": "t", "type": "quantitative", "axis": {"orient": "top", "values": [10,20,30,40,50,60,70,80,90,100,110,120,130,140,150,160,170,180,190,200], "labels": false, "tickSize": -5, "title": null}},
  "y": {"field": "v", "type": "quantitative", "axis": {"orient": "right", "values": [-0.1,-0.075,-0.05,-0.025,0,0.025,0.05,0.075], "labels": false, "tickSize": -5, "title": null}}
 }},
{"data": {"values": [{}]},
 "mark": {"type": "text", "color": "#888888", "fontSize": 13, "font": "Liberation Sans Narrow, DejaVu Sans Condensed, sans-serif"},
 "encoding": {"x": {"datum": 194.8, "type": "quantitative", "axis": null}, "y": {"datum": 0.067, "type": "quantitative", "axis": null}, "text": {"value": "E"}}}
],
"resolve": {"axis": {"x": "independent", "y": "independent"}}
}
],
"config": {
 "view": {"stroke": "#a8a8a8", "strokeWidth": 1},
 "axis": {"domain": false, "grid": false, "tickColor": "#a8a8a8", "tickWidth": 1, "labelColor": "#808080", "titleColor": "#808080",
          "labelFont": "Liberation Sans Narrow, DejaVu Sans Condensed, sans-serif", "titleFont": "Liberation Sans Narrow, DejaVu Sans Condensed, sans-serif",
          "labelFontSize": 12, "titleFontSize": 12, "titleFontWeight": "normal", "labelOverlap": false, "labelFlush": false, "labelPadding": 3}
}
}
